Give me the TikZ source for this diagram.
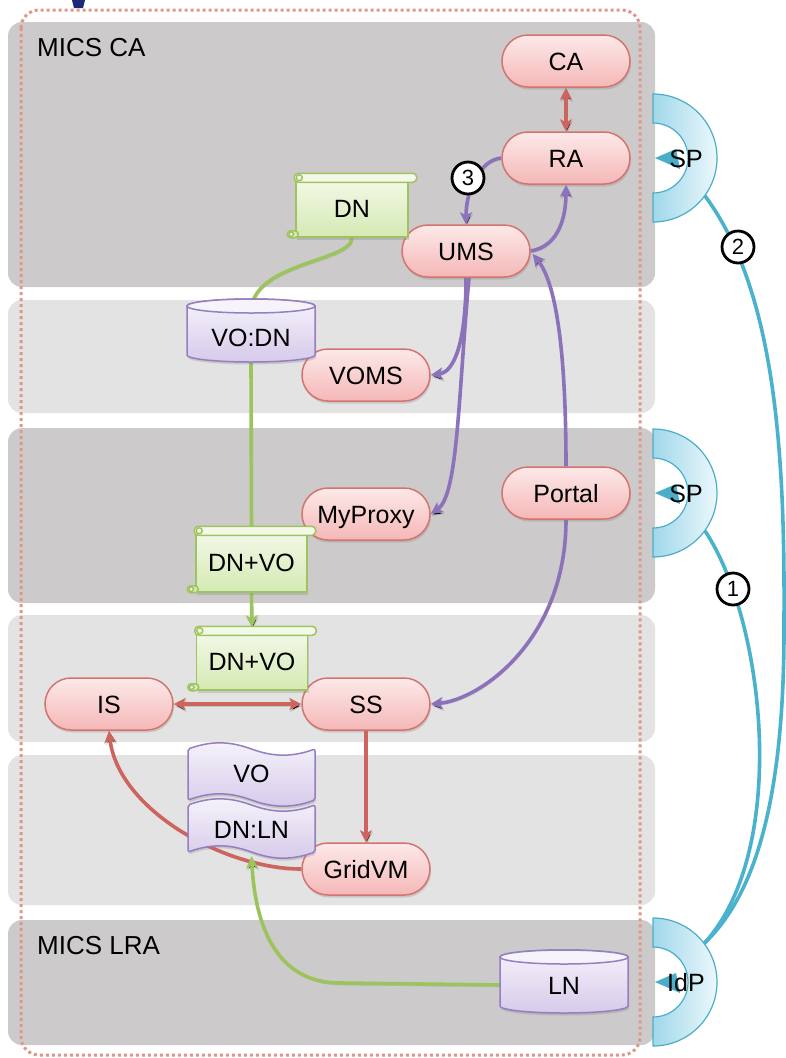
\documentclass[tikz,border=0pt]{standalone}
\usepackage{fontspec}
\setmainfont{Liberation Sans}
\usetikzlibrary{arrows.meta,calc,shapes.misc,shadows}

\definecolor{bandDark}{RGB}{204,202,203}
\definecolor{bandLight}{RGB}{227,227,227}
\definecolor{frameDot}{RGB}{224,150,140}
\definecolor{pinkTop}{RGB}{253,233,233}
\definecolor{pinkBot}{RGB}{245,183,183}
\definecolor{pinkEdge}{RGB}{212,116,110}
\definecolor{greenTop}{RGB}{243,249,232}
\definecolor{greenBot}{RGB}{212,233,178}
\definecolor{greenEdge}{RGB}{158,196,98}
\definecolor{lilacTop}{RGB}{246,243,251}
\definecolor{lilacBot}{RGB}{214,202,234}
\definecolor{lilacEdge}{RGB}{150,126,192}
\definecolor{cyanLeft}{RGB}{160,216,234}
\definecolor{cyanRight}{RGB}{236,248,252}
\definecolor{cyanEdge}{RGB}{75,174,200}
\definecolor{wireRed}{RGB}{206,100,94}
\definecolor{wirePurple}{RGB}{140,114,186}
\definecolor{wireGreen}{RGB}{156,196,92}
\definecolor{wireCyan}{RGB}{74,178,204}
\definecolor{navyMark}{RGB}{30,40,120}

\pgfdeclarelayer{bands}
\pgfdeclarelayer{wires}
\pgfsetlayers{bands,wires,main}

% scroll-shaped document: body node plus rolled top and curled corner
\newcommand\scrolldoc[6]{%
  \node[scrollbody, minimum width=#4pt, minimum height=#5pt] (#1) at (#2,#3) {#6};
  \draw[scrollpen, fill=greenTop, rounded corners=4pt]
    ($(#1.north west)+(-1,-5)$) rectangle ($(#1.north east)+(8,4)$);
  \draw[scrollpen, fill=greenTop] ($(#1.north west)+(4,-0.5)$) circle (3);
  \draw[scrollpen, fill=greenBot, rounded corners=3.5pt]
    ($(#1.south west)+(-8,-7)$) rectangle ($(#1.south west)+(3,0)$);
  \draw[scrollpen, fill=greenTop] ($(#1.south west)+(-4,-3.5)$) circle (2.2);
}
% upright cylinder: centre x, centre y, half width, half height
\newcommand\cylinderdoc[4]{%
  \path[cylbody] ({#1-#3},{#2-#4+7}) -- ({#1-#3},{#2+#4-7})
    arc[start angle=180, end angle=0, x radius=#3, y radius=7]
    -- ({#1+#3},{#2-#4+7})
    arc[start angle=0, end angle=-180, x radius=#3, y radius=7] -- cycle;
  \path[cyltop] (#1,{#2-#4+7}) ellipse[x radius=#3, y radius=7];
}
% punched-tape document with wavy top and bottom edges
\newcommand\tapedoc[4]{%
  \path[tapebody] (#1,#3)
    .. controls ({#1+0.18*(#2-#1)},{#3-8}) and ({#1+0.32*(#2-#1)},{#3-8}) .. ({(#1+#2)/2},#3)
    .. controls ({#1+0.68*(#2-#1)},{#3+8}) and ({#1+0.82*(#2-#1)},{#3+8}) .. (#2,#3)
    -- (#2,#4)
    .. controls ({#1+0.82*(#2-#1)},{#4+8}) and ({#1+0.68*(#2-#1)},{#4+8}) .. ({(#1+#2)/2},#4)
    .. controls ({#1+0.32*(#2-#1)},{#4-8}) and ({#1+0.18*(#2-#1)},{#4-8}) .. (#1,#4)
    -- cycle;
}
% half ring with a small pointer, opening to the left
\newcommand\halfring[2]{%
  \path[ringbody] (#1,{#2-64}) arc[start angle=-90, end angle=90, radius=64]
    -- (#1,{#2+35}) arc[start angle=90, end angle=-90, radius=35] -- cycle;
  \fill[cyanEdge] ({#1+2},#2) -- ({#1+23},{#2-9}) -- ({#1+27},{#2+11}) -- cycle;
}

\begin{document}
\begin{tikzpicture}[x=1pt, y=-1pt,
  font=\fontsize{25}{30}\selectfont,
  shade/.style={drop shadow={shadow xshift=1pt, shadow yshift=-2.5pt, opacity=0.28}},
  pill/.style={rounded rectangle, draw=pinkEdge, line width=1.5pt,
    top color=pinkTop, bottom color=pinkBot, minimum width=128pt,
    minimum height=52pt, inner sep=0pt, text height=18pt, text depth=0pt, shade},
  scrollbody/.style={rectangle, draw=greenEdge, line width=1.5pt,
    top color=greenTop, bottom color=greenBot, inner sep=0pt,
    text height=18pt, text depth=0pt, shade},
  scrollpen/.style={draw=greenEdge, line width=1.5pt},
  cylbody/.style={draw=lilacEdge, line width=1.5pt, top color=lilacTop,
    bottom color=lilacBot, shade},
  cyltop/.style={draw=lilacEdge, line width=1.5pt, fill=lilacTop},
  tapebody/.style={draw=lilacEdge, line width=1.5pt, top color=lilacTop,
    bottom color=lilacBot, rounded corners=2pt, shade},
  doclabel/.style={inner sep=0pt, minimum width=126pt, text height=18pt, text depth=0pt},
  ringbody/.style={draw=cyanEdge, line width=1.2pt, left color=cyanLeft,
    right color=cyanRight},
  ringtext/.style={inner sep=0pt, text height=18pt, text depth=0pt},
  bandlabel/.style={anchor=west, inner sep=0pt, font=\fontsize{26}{30}\selectfont},
  numcirc/.style={circle, draw=black, line width=2.8pt, fill=white,
    minimum size=32pt, inner sep=0pt, font=\fontsize{22}{22}\selectfont},
  wire/.style={line width=3.6pt,
    preaction={draw=black, draw opacity=0.13, transform canvas={xshift=0.8pt, yshift=-2pt}}},
  redwire/.style={wire, draw=wireRed},
  purplewire/.style={wire, draw=wirePurple},
  greenwire/.style={wire, draw=wireGreen},
  cyanwire/.style={line width=3.6pt, draw=wireCyan},
  arr/.style={-{Stealth[length=12pt, width=12pt, inset=3pt]}},
  biarr/.style={{Stealth[length=12pt, width=12pt, inset=3pt]}-{Stealth[length=12pt, width=12pt, inset=3pt]}}
]
\useasboundingbox (0,0) rectangle (786,1058);

% ---- domain bands and the dotted frame
\begin{pgfonlayer}{bands}
  \fill[white] (0,0) rectangle (786,1058);
  \fill[bandDark, rounded corners=14pt] (8,22) rectangle (655,287);
  \fill[bandLight, rounded corners=14pt] (8,300) rectangle (655,413);
  \fill[bandDark, rounded corners=14pt] (8,428) rectangle (655,603);
  \fill[bandLight, rounded corners=14pt] (8,615) rectangle (655,742);
  \fill[bandLight, rounded corners=14pt] (8,755) rectangle (655,905);
  \fill[bandDark, rounded corners=14pt] (8,920) rectangle (655,1045);
  \fill[navyMark] (72,0) -- (85,0) -- (83,8) -- (74,8) -- cycle;
  \draw[frameDot, line width=3pt, dash pattern=on 3pt off 3pt, rounded corners=18pt]
    (21,10) rectangle (640,1055);
\end{pgfonlayer}

\node[bandlabel] (micsca) at (37,48) {MICS CA};
\node[bandlabel] (micslra) at (37,946) {MICS LRA};

% ---- services
\node[pill] (ca) at (566,61) {CA};
\node[pill] (ra) at (566,158) {RA};
\node[pill] (ums) at (466,251) {UMS};
\node[pill] (voms) at (366,375) {VOMS};
\node[pill] (myproxy) at (366,514) {MyProxy};
\node[pill] (portal) at (566,493) {Portal};
\node[pill] (is) at (109,704) {IS};
\node[pill] (ss) at (366,704) {SS};
\node[pill] (gridvm) at (366,869) {GridVM};

% ---- documents and stores
\scrolldoc{dn}{352}{208}{112}{58}{DN}
\scrolldoc{dnvoA}{251.5}{562}{111}{60}{DN+VO}
\scrolldoc{dnvoB}{252}{661}{111}{58}{DN+VO}

\cylinderdoc{251}{330.5}{64}{31.5}
\node[doclabel, minimum height=50pt] (vodn) at (251,337) {VO:DN};
\cylinderdoc{564}{981.5}{64}{31.5}
\node[doclabel, minimum height=50pt] (ln) at (564,985) {LN};

\tapedoc{188}{315}{749}{800}
\node[doclabel, minimum height=46pt] (vo) at (251.5,773) {VO};
\tapedoc{188}{315}{805}{852}
\node[doclabel, minimum height=46pt] (dnln) at (251.5,829) {DN:LN};

% ---- federation endpoints
\halfring{653}{158}
\node[ringtext] (sp1) at (686,158) {SP};
\halfring{653}{493}
\node[ringtext] (sp2) at (686,493) {SP};
\halfring{653}{982}
\node[ringtext] (idp) at (686,982) {IdP};
\coordinate (sp1c) at (653,158);
\coordinate (sp2c) at (653,493);
\coordinate (idpc) at (653,982);

% ---- connectors
\begin{pgfonlayer}{wires}
  \draw[redwire, biarr] (ca.south) -- (ra.north);
  \draw[redwire, biarr] (is.east) -- (ss.west);
  \draw[redwire, arr] (ss.south) -- (gridvm.north);
  \draw[redwire, arr] (gridvm.west) .. controls (225,869) and (118,810) .. (is.south);

  \draw[purplewire, arr] (ra.west) .. controls (480,160) and (466,190) .. (ums.north);
  \draw[purplewire, arr] (ums.east) .. controls (560,246) and (566,215) .. (ra.south);
  \draw[purplewire, arr] (portal.north) .. controls (566,350) and (556,283) .. ($(ums.east)+(2,3)$);
  \draw[purplewire, arr] (ums.south) .. controls (466,340) and (455,372) .. (voms.east);
  \draw[purplewire, arr] ($(ums.south)+(3,0)$) .. controls (458,400) and (458,495) .. (myproxy.east);
  \draw[purplewire, arr] (portal.south) .. controls (566,640) and (480,700) .. (ss.east);

  \draw[greenwire] (dn.south) .. controls (352,262) and (252,262) .. (vodn.north);
  \draw[greenwire] (vodn.south) -- (dnvoA.north);
  \draw[greenwire, arr] (dnvoA.south) -- ($(dnvoB.north)+(0,-4)$);
  \draw[greenwire, arr] (ln.west) -- (340,983) .. controls (285,983) and (256,940) .. ($(dnln.south)+(0,4)$);

  \draw[cyanwire] ($(sp1c)+(36:64)$) .. controls (775,290) and (785,450) .. (784,620)
    .. controls (785,800) and (755,895) .. ($(idpc)+(-37:64)$);
  \draw[cyanwire] ($(sp2c)+(36:64)$) .. controls (765,620) and (790,850) .. ($(idpc)+(-37:64)$);
\end{pgfonlayer}

\node[numcirc] (n3) at (468,178) {3};
\node[numcirc] (n2) at (738,247) {2};
\node[numcirc] (n1) at (733,589) {1};
\end{tikzpicture}
\end{document}
